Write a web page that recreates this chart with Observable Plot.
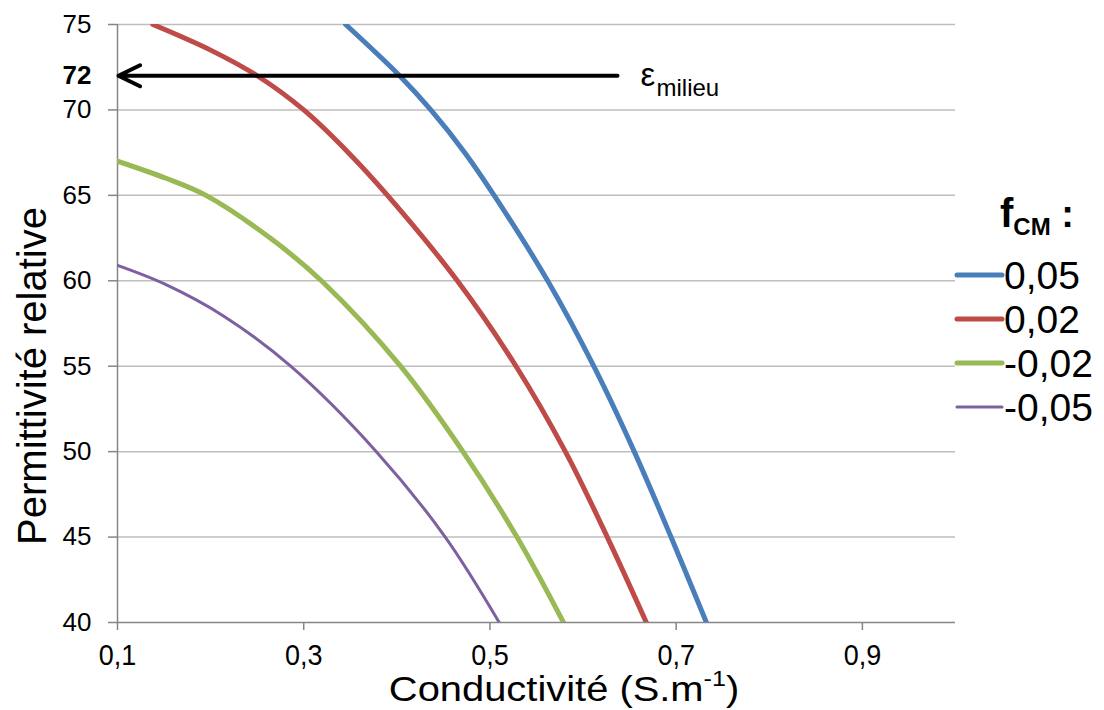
<!DOCTYPE html>
<html>
<head>
<meta charset="utf-8">
<script src="https://cdn.jsdelivr.net/npm/d3@7"></script>
<script src="https://cdn.jsdelivr.net/npm/@observablehq/plot@0.6"></script>
<style>
  html, body { margin: 0; padding: 0; background: #fff; }
  #chart svg { display: block; }
</style>
</head>
<body>
<div id="chart"></div>
<script>
// ---- Data ----
const fcmLabels = ["0,05", "0,02", "-0,02", "-0,05"];
const lineColors = ["#4A7EBB", "#BE4B48", "#98B954", "#7D60A0"];
const lineWidths = [5, 5, 5, 3];

// conductivity (S/m) and relative permittivity for each f_CM value
const sigma005 = [0.345, 0.403, 0.4365, 0.473, 0.5045, 0.562, 0.6115, 0.655, 0.6945, 0.7325];
const eps005   = [75, 72, 70, 67.5, 65, 60, 55, 50, 45, 40];
const sigma002 = [0.138, 0.200, 0.250, 0.300, 0.348, 0.390, 0.465, 0.528, 0.581, 0.626, 0.668];
const eps002   = [75, 73.5, 72, 70, 67.5, 65, 60, 55, 50, 45, 40];
const sigmaM002 = [0.100, 0.152, 0.195, 0.264, 0.319, 0.404, 0.471, 0.529, 0.579];
const epsM002   = [67.0, 66.0, 65, 62.5, 60, 55, 50, 45, 40];
const sigmaM005 = [0.100, 0.151, 0.215, 0.286, 0.378, 0.452, 0.510];
const epsM005   = [60.9, 59.8, 57.9, 55, 50, 45, 40];

const xTicks = [0.1, 0.3, 0.5, 0.7, 0.9];
const yTicks = [40, 45, 50, 55, 60, 65, 70, 75];
const epsMilieu = 72;
const arrowFrom = 0.637;
const arrowTo = 0.101;

const sigmaSeries = [sigma005, sigma002, sigmaM002, sigmaM005];
const epsSeries = [eps005, eps002, epsM002, epsM005];
const rows = fcmLabels.map((f, i) =>
  sigmaSeries[i].map((s, j) => ({fcm: f, sigma: s, eps: epsSeries[i][j]}))
);

const font = "'Liberation Sans', Arial, sans-serif";

const chart = Plot.plot({
  width: 1104,
  height: 710,
  marginLeft: 117,
  marginRight: 149,
  marginTop: 24,
  marginBottom: 88,
  style: {fontFamily: font, background: "#fff", color: "#000"},
  x: {domain: [0.1, 1.0]},
  y: {domain: [40, 75]},
  marks: [
    Plot.gridY(yTicks.filter(d => d !== 40), {stroke: "#BEBEBE", strokeOpacity: 1, strokeWidth: 1.5}),
    Plot.ruleX([0.1], {stroke: "#868686", strokeWidth: 1.5}),
    Plot.ruleY([40], {stroke: "#868686", strokeWidth: 1.5}),
    Plot.axisY(yTicks, {
      tickSize: 9, tickPadding: 17, fontSize: 26, stroke: "#868686", strokeWidth: 1.5,
      fill: "#000", label: null, tickFormat: d => String(d)
    }),
    Plot.axisX(xTicks, {
      tickSize: 8, tickPadding: 13, fontSize: 30, stroke: "#868686", strokeWidth: 1.5,
      fill: "#000", label: null, tickFormat: d => d.toFixed(1).replace(".", ",")
    }),
    ...rows.map((r, i) => Plot.line(r, {
      x: "sigma", y: "eps", stroke: lineColors[i], strokeWidth: lineWidths[i],
      curve: "catmull-rom", clip: true
    })),
    Plot.arrow([epsMilieu], {
      x1: arrowFrom, x2: arrowTo, y1: d => d, y2: d => d,
      stroke: "#000", strokeWidth: 4, headLength: 9, headAngle: 52
    }),
    Plot.text([epsMilieu], {
      x: () => 0.1, y: d => d, text: d => String(d),
      fontWeight: "bold", fontSize: 26, textAnchor: "end", dx: -26
    }),
    Plot.text([epsMilieu], {
      x: () => arrowFrom, y: d => d, text: () => "ε",
      fontSize: 33, textAnchor: "start", lineAnchor: "bottom", dx: 23, dy: 10
    }),
    Plot.text([epsMilieu], {
      x: () => arrowFrom, y: d => d, text: () => "milieu",
      fontSize: 24, textAnchor: "start", lineAnchor: "bottom", dx: 39, dy: 20
    })
  ]
});

document.getElementById("chart").appendChild(chart);
const svg = d3.select(chart);

// condensed look of the x tick labels
svg.selectAll('g[aria-label="x-axis tick label"] text').each(function() {
  const t = d3.select(this);
  const tr = t.attr("transform") || "";
  t.attr("transform", tr + " scale(0.9,1)");
});

// Axis titles
svg.append("text")
  .attr("transform", "translate(46,376) rotate(-90)")
  .attr("text-anchor", "middle")
  .attr("font-family", font).attr("font-size", 40).attr("fill", "#000")
  .text("Permittivité relative");

const xl = svg.append("text")
  .attr("transform", "translate(564,701) scale(1.14,1)")
  .attr("text-anchor", "middle")
  .attr("font-family", font).attr("font-size", 35).attr("fill", "#000");
xl.append("tspan").text("Conductivité (S.m");
xl.append("tspan").attr("font-size", 22).attr("dy", -15).text("-1");
xl.append("tspan").attr("dy", 15).text(")");

// Legend
const lg = svg.append("g").attr("font-family", font).attr("fill", "#000").attr("text-anchor", "start");
const lt = lg.append("text").attr("x", 1000).attr("y", 227).attr("font-weight", "bold").attr("text-anchor", "start");
lt.append("tspan").attr("font-size", 40).text("f");
lt.append("tspan").attr("font-size", 24).attr("dy", 8).text("CM");
lt.append("tspan").attr("font-size", 38).attr("dy", -8).text(" :");

fcmLabels.forEach((f, i) => {
  const y = 275 + i * 44;
  lg.append("line")
    .attr("x1", 957).attr("x2", 1002).attr("y1", y).attr("y2", y)
    .attr("stroke", lineColors[i]).attr("stroke-width", lineWidths[i])
    .attr("stroke-linecap", "round");
  lg.append("text")
    .attr("x", 1004).attr("y", y).attr("dy", "0.36em")
    .attr("text-anchor", "start")
    .attr("font-size", 39).text(f);
});
</script>
</body>
</html>
